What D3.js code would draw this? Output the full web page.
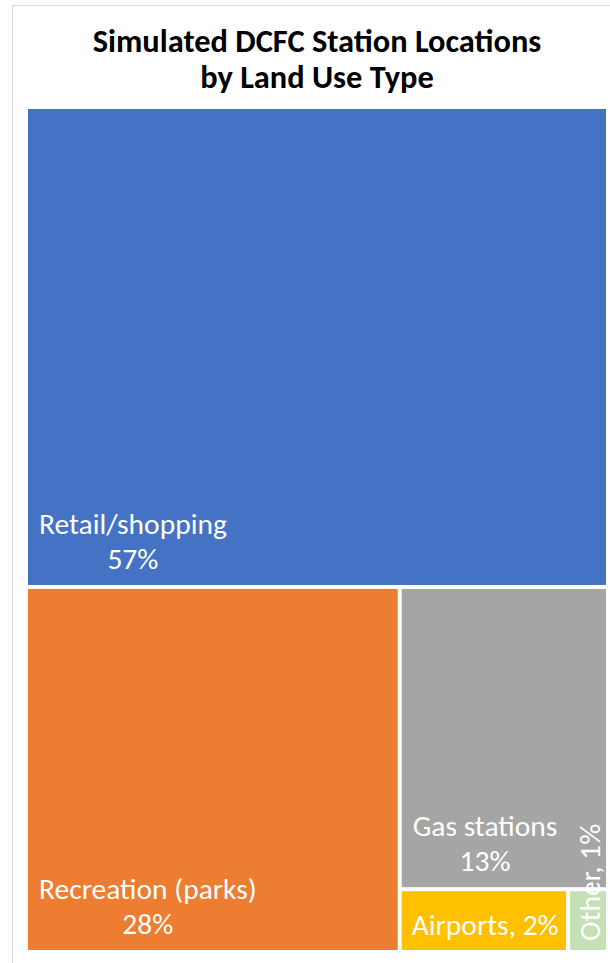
<!DOCTYPE html>
<html>
<head>
<meta charset="utf-8">
<script src="https://cdn.jsdelivr.net/npm/d3@7"></script>
<style>
  html, body { margin: 0; padding: 0; background: #ffffff; }
  svg { display: block; }
</style>
</head>
<body>
<svg id="chart" width="610" height="963"></svg>
<script>
// Land use categories and their share of simulated DCFC stations (%)
const categories = ["Retail/shopping", "Recreation (parks)", "Gas stations", "Airports", "Other"];
const shares = [56.8, 27.74, 12.8, 2.15, 0.51];
const colors = ["#4472C4", "#ED7D31", "#A5A5A5", "#FFC000", "#C5E0B4"];
const titleLines = ["Simulated DCFC Station Locations", "by Land Use Type"];

const W = 610, H = 963;
const plot = { x: 28, y: 109, w: 578, h: 841 };
const labelFont = "Carlito, Calibri, Lato, sans-serif";

const svg = d3.select("#chart");

// chart area frame
svg.append("rect")
  .attr("x", 12.5).attr("y", 5.5)
  .attr("width", W).attr("height", H + 10)
  .attr("fill", "#ffffff")
  .attr("stroke", "#d9d9d9").attr("stroke-width", 1);

// title
svg.append("g").selectAll("text")
  .data(titleLines)
  .join("text")
  .attr("x", plot.x + plot.w / 2)
  .attr("y", (d, i) => 52 + i * 36)
  .attr("text-anchor", "middle")
  .attr("font-family", labelFont)
  .attr("font-weight", "bold")
  .attr("font-size", 32.4)
  .attr("fill", "#000000")
  .text(d => d);

// treemap layout
const root = d3.hierarchy({
    children: categories.map((c, i) => ({ name: c, value: shares[i], color: colors[i] }))
  })
  .sum(d => d.value || 0)
  .sort((a, b) => b.value - a.value);

d3.treemap()
  .tile(d3.treemapSquarify)
  .size([plot.w, plot.h])
  .paddingInner(4)
  .round(false)(root);

const g = svg.append("g").attr("transform", `translate(${plot.x},${plot.y})`);
const leaves = root.leaves();
const pct = v => Math.round(v) + "%";

g.selectAll("rect.cell")
  .data(leaves)
  .join("rect")
  .attr("class", "cell")
  .attr("x", d => d.x0)
  .attr("y", d => d.y0)
  .attr("width", d => d.x1 - d.x0)
  .attr("height", d => d.y1 - d.y0)
  .attr("fill", d => d.data.color);

const labels = g.append("g")
  .attr("font-family", labelFont)
  .attr("font-size", 29.5)
  .attr("fill", "#ffffff");

leaves.forEach(d => {
  const w = d.x1 - d.x0;
  const h = d.y1 - d.y0;
  if (w > 180 && h > 100) {
    // two-line label: name over percentage, block at lower left
    const t1 = labels.append("text").text(d.data.name);
    const tw = t1.node().getComputedTextLength();
    const cx = d.x0 + 11 + tw / 2;
    t1.attr("x", cx).attr("y", d.y1 - 51).attr("text-anchor", "middle");
    labels.append("text")
      .attr("x", cx).attr("y", d.y1 - 16)
      .attr("text-anchor", "middle")
      .text(pct(d.data.value));
  } else if (w > h) {
    // single line label
    labels.append("text")
      .attr("x", d.x0 + 10).attr("y", d.y1 - 15)
      .text(d.data.name + ", " + pct(d.data.value));
  } else {
    // narrow cell: vertical label reading upward
    labels.append("text")
      .attr("transform", `translate(${d.x1 - 6},${d.y1 - 9}) rotate(-90)`)
      .text(d.data.name + ", " + pct(d.data.value));
  }
});
</script>
</body>
</html>
